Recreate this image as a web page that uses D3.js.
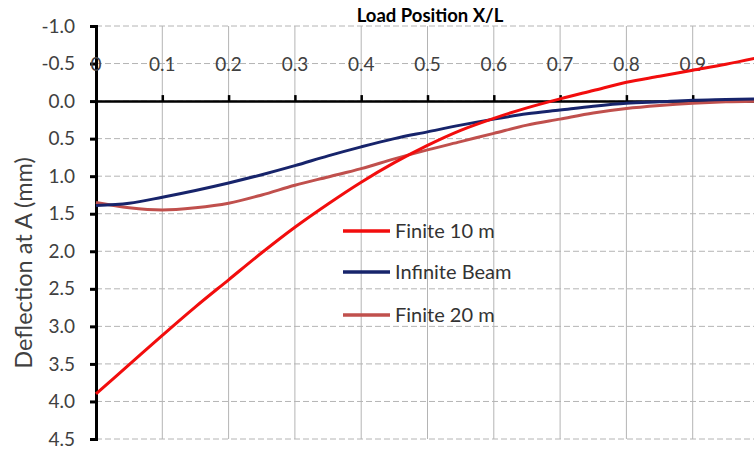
<!DOCTYPE html>
<html>
<head>
<meta charset="utf-8">
<script src="https://cdn.jsdelivr.net/npm/d3@7"></script>
<style>
  html, body { margin: 0; padding: 0; background: #fff; }
  svg { display: block; font-family: Lato, "Liberation Sans", sans-serif; }
</style>
</head>
<body>
<svg id="chart" width="754" height="450"></svg>
<script>
// Load position along the beam, as a fraction of span length
const positions = [0, 0.05, 0.1, 0.15, 0.2, 0.25, 0.3, 0.35, 0.4, 0.45, 0.5,
                   0.55, 0.6, 0.65, 0.7, 0.75, 0.8, 0.85, 0.9, 0.95, 1.0];

// Deflection at point A (mm), positive downward
const finite10 = [3.90, 3.51, 3.12, 2.74, 2.38, 2.02, 1.68, 1.37, 1.08, 0.82, 0.59,
                  0.39, 0.23, 0.09, -0.03, -0.14, -0.25, -0.33, -0.41, -0.49, -0.58];
const infiniteBeam = [1.39, 1.36, 1.28, 1.19, 1.09, 0.98, 0.86, 0.73, 0.61, 0.50, 0.41,
                      0.32, 0.24, 0.17, 0.12, 0.07, 0.03, 0.01, -0.01, -0.02, -0.03];
const finite20 = [1.35, 1.42, 1.45, 1.42, 1.36, 1.25, 1.12, 1.01, 0.90, 0.77, 0.65,
                  0.54, 0.43, 0.32, 0.24, 0.16, 0.10, 0.06, 0.03, 0.01, 0.00];

const seriesNames = ["Finite 10 m", "Infinite Beam", "Finite 20 m"];
const seriesColors = ["#f20d0d", "#17246b", "#c0504d"];

const xTicks = [0, 0.1, 0.2, 0.3, 0.4, 0.5, 0.6, 0.7, 0.8, 0.9, 1.0];
const yTicks = [-1.0, -0.5, 0.0, 0.5, 1.0, 1.5, 2.0, 2.5, 3.0, 3.5, 4.0, 4.5];

// one decimal, plain hyphen for negatives
const fmt = d => d3.format(".1f")(d).replace("\u2212", "-");

const svg = d3.select("#chart");

const x = d3.scaleLinear().domain([0, 1]).range([96, 759]);
const y = d3.scaleLinear().domain([-1, 4.5]).range([26, 439]);

// grid: solid verticals, dashed horizontals
const grid = svg.append("g");
grid.selectAll("line.v").data(xTicks.filter(d => d > 0)).join("line")
  .attr("x1", d => x(d)).attr("x2", d => x(d))
  .attr("y1", y(-1)).attr("y2", y(4.5))
  .attr("stroke", "#b4b4b4").attr("stroke-width", 1);
grid.selectAll("line.h").data(yTicks).join("line")
  .attr("x1", x(0)).attr("x2", 754)
  .attr("y1", d => y(d)).attr("y2", d => y(d))
  .attr("stroke", "#b4b4b4").attr("stroke-width", 1)
  .attr("stroke-dasharray", "6,3");

// y axis on the left
const yAxis = d3.axisLeft(y).tickValues(yTicks).tickFormat(fmt)
  .tickSize(6).tickPadding(15);
const gy = svg.append("g").attr("transform", `translate(${x(0)},0)`).call(yAxis);
gy.select(".domain").attr("stroke", "#000").attr("stroke-width", 3);
gy.selectAll(".tick line").attr("stroke", "#000").attr("stroke-width", 3);
gy.selectAll(".tick text").attr("fill", "#404040")
  .style("font-size", "19px").style("font-family", "Lato, sans-serif");

// x axis along the zero line, labels placed higher up
const xAxis = d3.axisTop(x).tickValues(xTicks).tickSize(6).tickFormat(() => "");
const gx = svg.append("g").attr("transform", `translate(0,${y(0)})`).call(xAxis);
gx.select(".domain").attr("stroke", "#000").attr("stroke-width", 2.5);
gx.selectAll(".tick line").attr("stroke", "#000").attr("stroke-width", 2.5);

svg.append("g").selectAll("text").data(xTicks.filter(d => d < 1)).join("text")
  .attr("x", d => x(d)).attr("y", y(-0.5) + 7)
  .attr("text-anchor", "middle")
  .attr("fill", "#404040")
  .style("font-size", "19px")
  .text(d => d === 0 ? "0" : fmt(d));

// axis titles
svg.append("text")
  .attr("x", 430).attr("y", 22)
  .attr("text-anchor", "middle")
  .attr("font-weight", "bold")
  .attr("fill", "#000")
  .style("font-size", "18.5px")
  .text("Load Position X/L");

svg.append("text")
  .attr("transform", "translate(32,263) rotate(-90)")
  .attr("text-anchor", "middle")
  .attr("fill", "#404040")
  .style("font-size", "23.5px")
  .text("Deflection at A (mm)");

// curves
const series = [finite20, infiniteBeam, finite10];
const colorsDrawn = [seriesColors[2], seriesColors[1], seriesColors[0]];
const line = d3.line()
  .x(d => x(d[0]))
  .y(d => y(d[1]))
  .curve(d3.curveCatmullRom.alpha(0.5));

svg.append("g").selectAll("path").data(series).join("path")
  .attr("d", vals => line(positions.map((p, i) => [p, vals[i]])))
  .attr("fill", "none")
  .attr("stroke", (d, i) => colorsDrawn[i])
  .attr("stroke-width", 3)
  .attr("stroke-linejoin", "round");

// legend
const legend = svg.append("g");
const legendY = [231, 272, 315];
seriesNames.forEach((name, i) => {
  legend.append("line")
    .attr("x1", 343).attr("x2", 390)
    .attr("y1", legendY[i]).attr("y2", legendY[i])
    .attr("stroke", seriesColors[i]).attr("stroke-width", 3.5);
  legend.append("text")
    .attr("x", 395).attr("y", legendY[i] + 7)
    .attr("fill", "#333")
    .style("font-size", "20px")
    .text(name);
});
</script>
</body>
</html>
